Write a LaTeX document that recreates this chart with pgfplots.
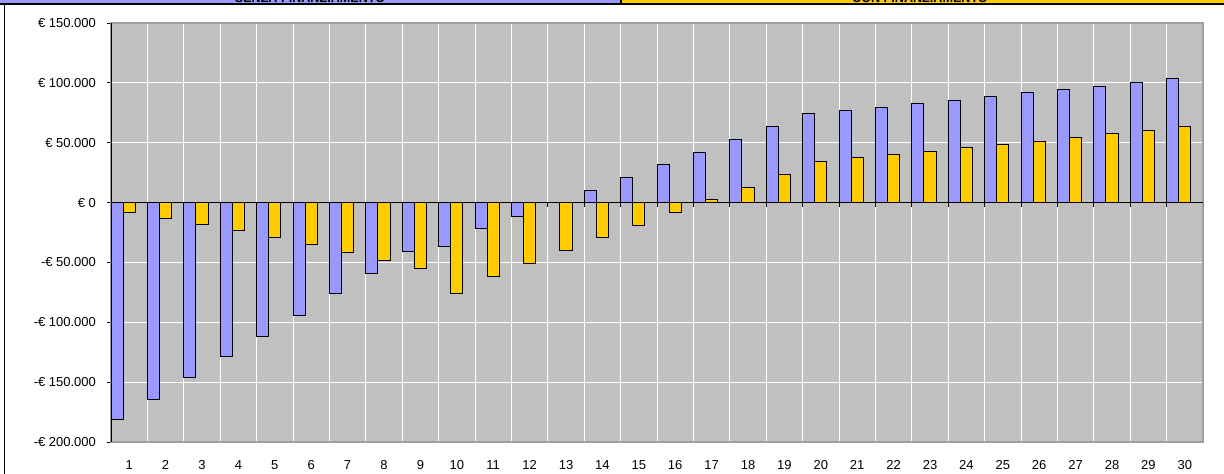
\documentclass[border=0pt]{standalone}
\usepackage{fontspec}
\setmainfont{Liberation Sans}
\usepackage{pgfplots}
\pgfplotsset{compat=1.18}
\definecolor{senza}{HTML}{9999FF}
\definecolor{con}{HTML}{FFCC00}
\definecolor{plotbg}{HTML}{C0C0C0}
\definecolor{frame}{HTML}{A0A0A0}

\begin{document}
\begin{tikzpicture}
% 1 px of the 1224x474 reference = 0.5pt
\useasboundingbox (0,0) rectangle (612pt,237pt);

% cut-off legend bands at the top
\begin{scope}
  \clip (0,235.5pt) rectangle (612pt,237pt);
  \fill[senza] (0,235.5pt) rectangle (310pt,237pt);
  \fill[con] (311pt,235.5pt) rectangle (612pt,237pt);
  \node[anchor=base, font=\fontsize{6.3}{7}\selectfont\bfseries, inner sep=0pt] at (155pt,235.8pt) {SENZA FINANZIAMENTO};
  \node[anchor=base, font=\fontsize{6.3}{7}\selectfont\bfseries, inner sep=0pt] at (460pt,235.8pt) {CON FINANZIAMENTO};
\end{scope}
\draw[black, line width=0.6pt] (310.5pt,235.5pt) -- (310.5pt,237pt);
\draw[black, line width=1pt] (0,235pt) -- (612pt,235pt);
\draw[black, line width=0.7pt] (2.3pt,235pt) -- (2.3pt,0);

\begin{axis}[
    at={(55.5pt,16pt)}, anchor=south west,
    scale only axis, width=546pt, height=209.5pt,
    ybar,
    xmin=0.5, xmax=30.5,
    ymin=-200000, ymax=150000,
    scaled y ticks=false,
    axis background/.style={fill=plotbg},
    axis line style={draw=frame, line width=0.6pt},
    xtick={1,...,30},
    minor xtick={0.5,1.5,...,30.5},
    xminorgrids, xmajorgrids=false,
    minor grid style={white, line width=0.5pt},
    ytick={-200000,-150000,...,150000},
    yticklabels={-€ 200.000,-€ 150.000,-€ 100.000,-€ 50.000,€ 0,€ 50.000,€ 100.000,€ 150.000},
    ymajorgrids,
    major grid style={white, line width=0.5pt},
    tick pos=left,
    xtick style={draw=none},
    minor tick length=0pt,
    ytick style={black, line width=0.4pt},
    major tick length=2pt,
    tick align=outside,
    ticklabel style={font=\fontsize{6.5}{7.5}\selectfont},
    /pgf/number format/assume math mode=true,
    xticklabel style={yshift=-3.8pt},
    yticklabel style={xshift=-2pt},
    bar width=0.3333,
]
\addplot[fill=senza, draw=black, line width=0.45pt, bar shift=-0.3333] coordinates {
 (1,-181500) (2,-164300) (3,-146500) (4,-128900) (5,-111900)
 (6,-94100) (7,-76300) (8,-58800) (9,-40900) (10,-36500)
 (11,-22000) (12,-11400) (13,0) (14,10000) (15,20900)
 (16,31500) (17,42000) (18,52600) (19,63500) (20,74200)
 (21,77200) (22,79700) (23,82500) (24,85500) (25,88300)
 (26,91600) (27,94200) (28,97200) (29,100300) (30,103300)
};
\addplot[fill=con, draw=black, line width=0.45pt, bar shift=0] coordinates {
 (1,-8300) (2,-13400) (3,-18400) (4,-23400) (5,-29200)
 (6,-35000) (7,-42000) (8,-48700) (9,-55400) (10,-76000)
 (11,-61600) (12,-51000) (13,-39800) (14,-29500) (15,-18900)
 (16,-8100) (17,2700) (18,12800) (19,23400) (20,34300)
 (21,37600) (22,40100) (23,42600) (24,46000) (25,48500)
 (26,51300) (27,54600) (28,57600) (29,60500) (30,63500)
};
% category axis crossing at zero, with its tick marks
\draw[black, line width=0.5pt] (axis cs:0.5,0) -- (axis cs:30.5,0);
\pgfplotsinvokeforeach{0,...,30}{
  \draw[black, line width=0.4pt] (axis cs:#1.5,0) -- (axis cs:#1.5,-3400);
}
\draw[black, line width=0.5pt] (rel axis cs:0,0) -- (rel axis cs:0,1);
\end{axis}
\end{tikzpicture}
\end{document}
